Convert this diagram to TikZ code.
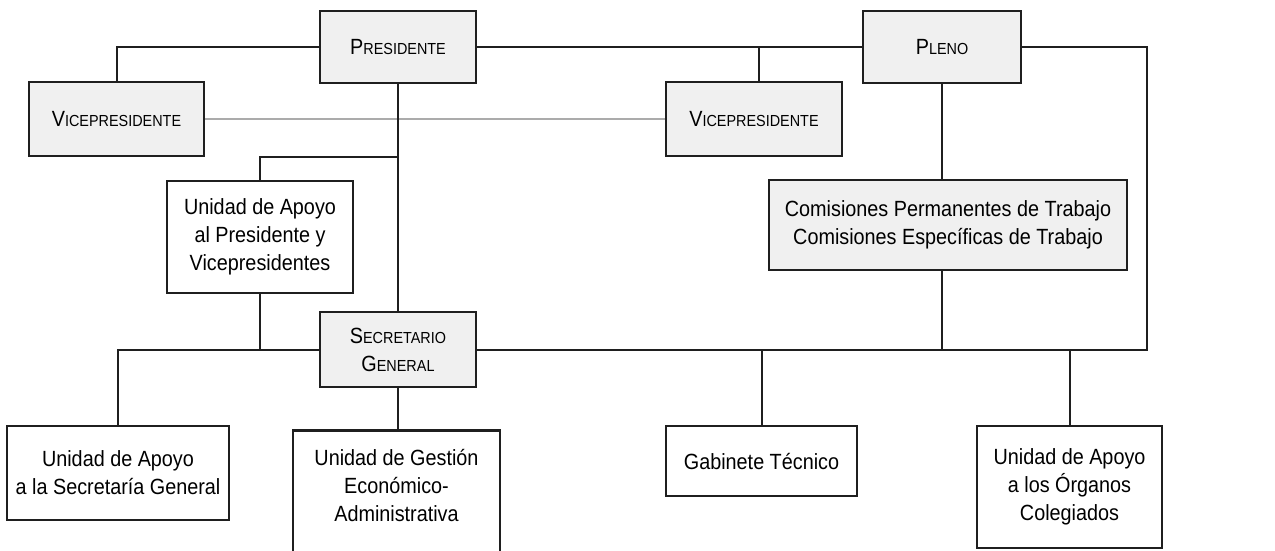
\documentclass[tikz,border=0pt]{standalone}
\usepackage{fontspec}
\setmainfont{Liberation Sans}[FakeStretch=0.9]
\newcommand\smcp[1]{{\fontsize{16}{20}\selectfont #1}}
\begin{document}
\begin{tikzpicture}[x=1pt,y=-1pt,
  box/.style={draw=black!88, line width=2.6pt, fill=white, inner sep=0pt, align=center, font=\fontsize{22}{28}\selectfont},
  gbox/.style={box, fill=black!6},
  link/.style={line width=2pt, draw=black!88},
  greyline/.style={line width=1.2pt, draw=black!33}]
\useasboundingbox (0,0) rectangle (1275,550);
\clip (0,0) rectangle (1275,550);
% nodes
\node[gbox, minimum width=156, minimum height=72] (pres) at (398,47) {P\smcp{RESIDENTE}};
\node[gbox, minimum width=158, minimum height=72] (pleno) at (942,47) {P\smcp{LENO}};
\node[gbox, minimum width=175, minimum height=74] (vice1) at (116.5,119) {V\smcp{ICEPRESIDENTE}};
\node[gbox, minimum width=176, minimum height=74] (vice2) at (754,119) {V\smcp{ICEPRESIDENTE}};
\node[box, minimum width=186, minimum height=112] (uap) at (260,237) {Unidad de Apoyo\\al Presidente y\\Vicepresidentes};
\node[gbox, minimum width=358, minimum height=90] (com) at (948,225) {Comisiones Permanentes de Trabajo\\Comisiones Específicas de Trabajo};
\node[gbox, minimum width=156, minimum height=75] (sec) at (398,349.5) {S\smcp{ECRETARIO}\\G\smcp{ENERAL}};
\node[box, minimum width=222, minimum height=94] (uasg) at (118,473) {Unidad de Apoyo\\a la Secretaría General};
\node[box, minimum width=207, anchor=north, inner ysep=19pt, text depth=60pt] (ugea) at (396.5,429) {Unidad de Gestión\\Económico-\\Administrativa};
\node[box, minimum width=191, minimum height=70] (gab) at (761.5,461) {Gabinete Técnico};
\node[box, minimum width=185, minimum height=122] (uaoc) at (1069.5,487) {Unidad de Apoyo\\a los Órganos\\Colegiados};
% connectors
\coordinate (j1) at (759,47);
\coordinate (j2) at (398,157);
\coordinate (cR) at (1147,47);
\draw[greyline] (vice1.east) -- (vice2.west);
\draw[link] (pres.west) -| (vice1.north);
\draw[link] (pres.east) -- (pleno.west);
\draw[link] (j1) -- (j1 |- vice2.north);
\draw[link] (pres.south) -- (sec.north);
\draw[link] (j2) -| (uap.north);
\draw[link] (uap.south) -- (uap.south |- sec.west);
\draw[link] (sec.west) -| (uasg.north);
\draw[link] (pleno.east) -- (cR) -- (cR |- sec.east) -- (sec.east);
\draw[link] (pleno.south) -- (pleno.south |- com.north);
\draw[link] (pleno.south |- com.south) -- (pleno.south |- sec.east);
\draw[link] (gab.north) -- (gab.north |- sec.east);
\draw[link] (uaoc.north) -- (uaoc.north |- sec.east);
\draw[link] (sec.south) -- (sec.south |- ugea.north);
\end{tikzpicture}
\end{document}
